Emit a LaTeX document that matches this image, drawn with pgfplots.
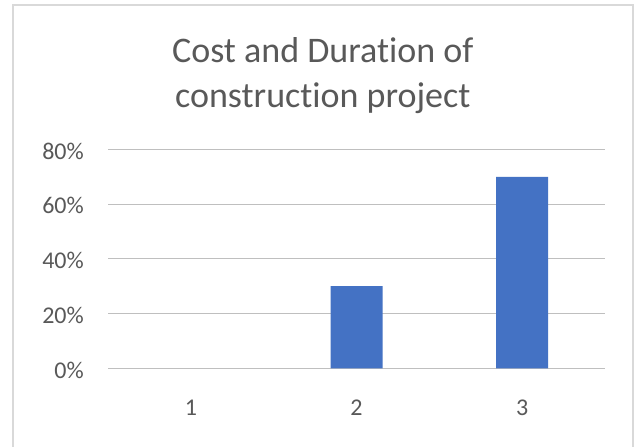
\documentclass[border=0pt]{standalone}
\usepackage{fontspec}
\setmainfont{Carlito}[Ligatures={NoCommon}]
\usepackage{pgfplots}
\pgfplotsset{compat=1.18}
\definecolor{txt}{HTML}{595959}
\definecolor{grid}{HTML}{D9D9D9}
\definecolor{bar}{HTML}{4472C4}
\begin{document}
\begin{tikzpicture}[x=1bp,y=1bp]
\useasboundingbox[fill=white] (0,0) rectangle (634,447);
\draw[grid, line width=1.5bp] (13,-2) -- (13,442) -- (633,442) -- (633,-2);
\node[txt, anchor=base, inner sep=0pt, font=\fontsize{36bp}{45bp}\selectfont] at (322.8,384.3) {Cost and Duration of};
\node[txt, anchor=base, inner sep=0pt, font=\fontsize{36bp}{45bp}\selectfont] at (322.8,339) {construction project};
\begin{axis}[
  at={(108bp,78.7bp)}, anchor=origin,
  scale only axis, width=497bp, height=218.8bp,
  xmin=0.5, xmax=3.5, ymin=0, ymax=80,
  xtick={1,2,3}, xticklabels={1,2,3},
  ytick={0,20,40,60,80}, yticklabels={0\%,20\%,40\%,60\%,80\%},
  axis line style={draw=none},
  tick style={draw=none},
  major tick length=0pt,
  xmajorgrids=false,
  ymajorgrids=true, major grid style={grid, line width=1.2bp},
  xticklabel style={txt, font=\fontsize{24bp}{29bp}\selectfont, anchor=base, inner sep=0pt, yshift=-47.7bp},
  yticklabel style={txt, font=\fontsize{24bp}{29bp}\selectfont, anchor=base east, inner sep=0pt, xshift=-24bp, yshift=-9.8bp},
  clip=false,
  unbounded coords=jump,
]
\addplot[ybar, bar width=52bp, fill=bar, draw=none, y filter/.expression={y<=0 ? nan : y}] coordinates {(1,0) (2,30) (3,70)};
\end{axis}
\end{tikzpicture}
\end{document}
